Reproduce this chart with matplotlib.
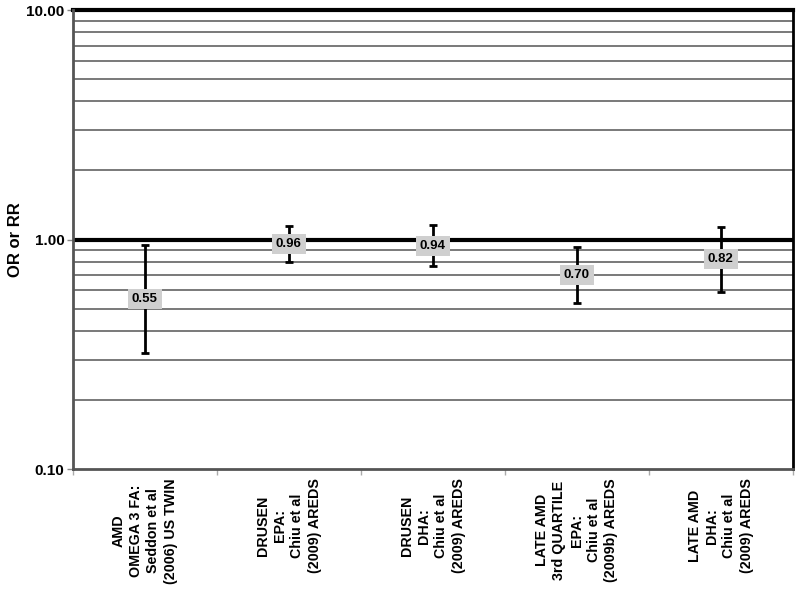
import matplotlib.pyplot as plt
from matplotlib.ticker import FixedLocator, NullFormatter
import numpy as np

plt.rcParams['font.family'] = ['Liberation Sans', 'DejaVu Sans']

categories = [
    "AMD\nOMEGA 3 FA:\nSeddon et al\n(2006) US TWIN",
    "DRUSEN\nEPA:\nChiu et al\n(2009) AREDS",
    "DRUSEN\nDHA:\nChiu et al\n(2009) AREDS",
    "LATE AMD\n3rd QUARTILE\nEPA:\nChiu et al\n(2009b) AREDS",
    "LATE AMD\nDHA:\nChiu et al\n(2009) AREDS",
]
estimates = [0.55, 0.96, 0.94, 0.70, 0.82]
lower = [0.32, 0.80, 0.77, 0.53, 0.59]
upper = [0.95, 1.15, 1.16, 0.93, 1.13]
value_labels = ["0.55", "0.96", "0.94", "0.70", "0.82"]

fig = plt.figure(figsize=(8, 5.89), dpi=100)
ax = fig.add_axes([0.091, 0.2037, 0.9, 0.7793])

x = np.arange(len(categories))
ax.set_yscale('log')
ax.set_ylim(0.1, 10)
ax.set_xlim(-0.5, len(categories) - 0.5)

# horizontal grid lines at every minor decade step
grid_vals = [v * d for d in (0.1, 1) for v in range(2, 10)]
for g in grid_vals:
    ax.axhline(g, color='#555555', lw=1.1, zorder=1)
ax.axhline(1.0, color='black', lw=3, zorder=2)
ax.axhline(10.0, color='black', lw=3, zorder=2, clip_on=False)

yerr = [np.array(estimates) - np.array(lower), np.array(upper) - np.array(estimates)]
ax.errorbar(x, estimates, yerr=yerr, fmt='none', ecolor='black',
            elinewidth=2, capsize=3, capthick=2, zorder=3)

for xi, v, lab in zip(x, estimates, value_labels):
    ax.text(xi, v, lab, ha='center', va='center', fontsize=9.5, fontweight='bold',
            zorder=4, bbox=dict(boxstyle='square,pad=0.3', fc='#cfcfcf', ec='none'))

ax.yaxis.set_major_locator(FixedLocator([0.1, 1, 10]))
ax.yaxis.set_minor_locator(FixedLocator([]))
ax.yaxis.set_minor_formatter(NullFormatter())
ax.set_yticklabels(["0.10", "1.00", "10.00"], fontsize=11, fontweight='bold')
ax.tick_params(axis='y', length=4, width=1, color='#888888', pad=2)

ax.set_xticks(np.arange(-0.5, len(categories)), minor=False)
ax.set_xticklabels([])
ax.tick_params(axis='x', length=4, width=1, color='#aaaaaa')
for xi, lab in zip(x, categories):
    ax.text(xi, -0.02, lab, transform=ax.get_xaxis_transform(), rotation=90,
            ha='center', va='top', multialignment='center', fontsize=10.3,
            fontweight='bold', linespacing=1.3)

ax.set_ylabel("OR or RR", fontsize=12, fontweight='bold', labelpad=2)

ax.spines['left'].set_color('#555555')
ax.spines['left'].set_linewidth(2)
ax.spines['bottom'].set_color('#555555')
ax.spines['bottom'].set_linewidth(2)
ax.spines['right'].set_color('black')
ax.spines['right'].set_linewidth(2)
ax.spines['top'].set_visible(False)

fig.savefig('out.png', dpi=100)
